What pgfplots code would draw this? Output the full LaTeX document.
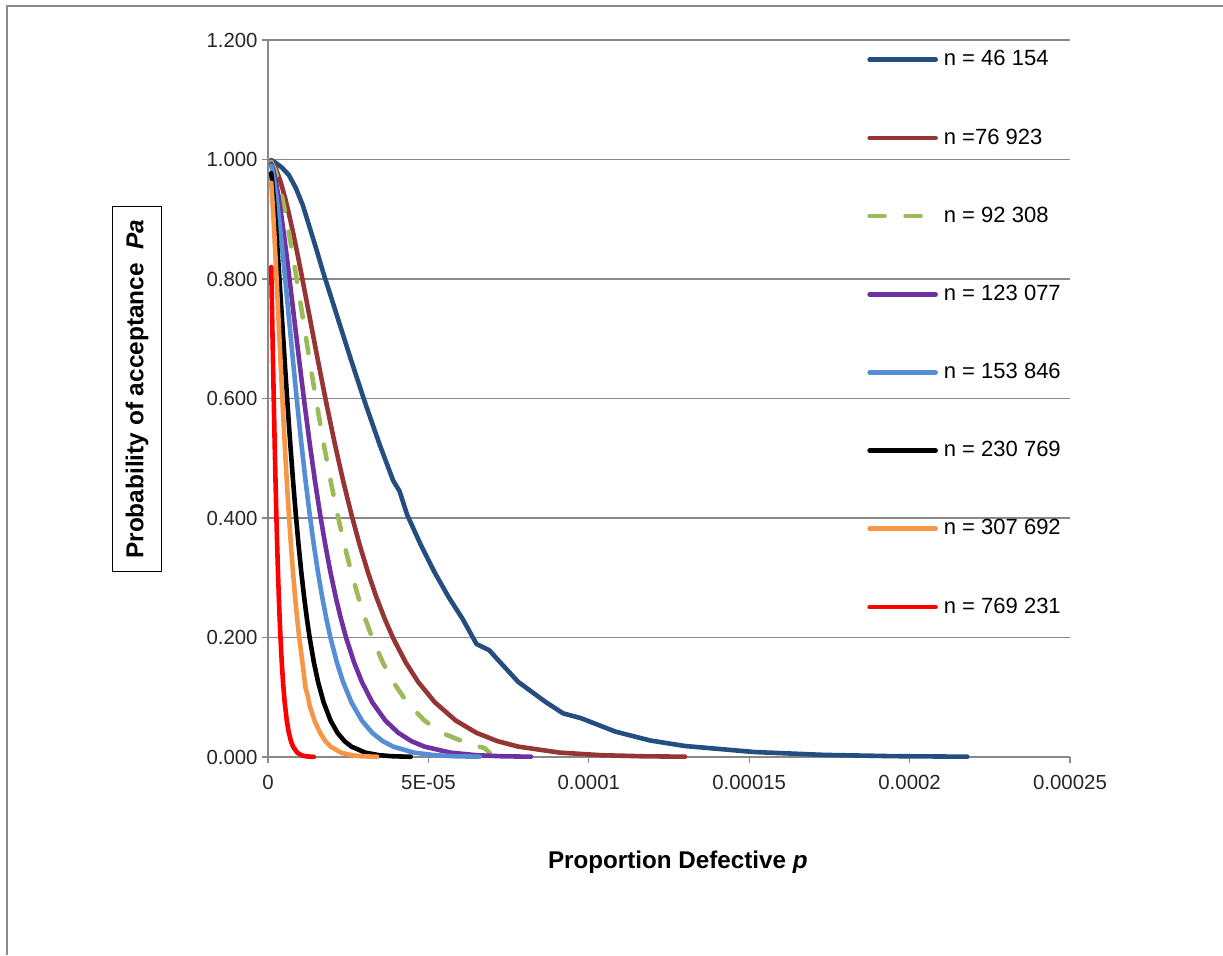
\documentclass[border=0pt]{standalone}
\usepackage{pgfplots}
\pgfplotsset{compat=1.18}
\usepackage{fontspec}
\setmainfont{Liberation Sans}
\definecolor{cBlue}{HTML}{254E80}
\definecolor{cBrown}{HTML}{963634}
\definecolor{cGreen}{HTML}{9BBB59}
\definecolor{cPurple}{HTML}{7030A0}
\definecolor{cLBlue}{HTML}{558ED5}
\definecolor{cOrange}{HTML}{F79646}
\definecolor{cRed}{HTML}{FF0000}
\definecolor{cGrid}{HTML}{898989}
\definecolor{cFrame}{HTML}{8A8A8A}
\begin{document}
\begin{tikzpicture}
\useasboundingbox (0,0) rectangle (611.5pt,477.5pt);
\draw[cFrame, line width=1.1pt] (3.5pt,0) -- (3.5pt,474.5pt) -- (611.5pt,474.5pt);
\begin{axis}[
  at={(134pt,99pt)}, anchor=south west,
  scale only axis, width=401pt, height=358.5pt,
  xmin=0, xmax=0.00025, ymin=0, ymax=1.2,
  axis lines*=left,
  axis line style={cGrid, line width=0.6pt},
  xtick={0,0.00005,0.0001,0.00015,0.0002,0.00025},
  xticklabels={0,5E-05,0.0001,0.00015,0.0002,0.00025},
  ytick={0,0.2,0.4,0.6,0.8,1.0,1.2},
  yticklabels={0.000,0.200,0.400,0.600,0.800,1.000,1.200},
  scaled x ticks=false, scaled y ticks=false,
  tick align=outside, major tick length=3pt,
  tick style={cGrid, line width=0.6pt},
  ymajorgrids, grid style={cGrid, line width=0.6pt},
  ticklabel style={font=\fontsize{10.2}{12}\selectfont, text=black!85},
  yticklabel style={inner xsep=2pt},
  xticklabel style={yshift=-2.5pt},
  xlabel={\textbf{Proportion Defective \textit{p}}},
  xlabel style={at={(axis description cs:0.511,-0.147)}, anchor=center, font=\fontsize{12.1}{14}\selectfont},
  ylabel={\textbf{Probability of acceptance\ \ \textit{Pa}}},
  ylabel style={at={(axis description cs:-0.1633,0.513)}, anchor=center, rotate=0,
    draw=black, line width=0.7pt, minimum height=24.5pt, inner xsep=6.5pt, font=\fontsize{12.2}{14}\selectfont},
  legend cell align=left,
  legend image code/.code={\draw[#1] (1pt,0pt) -- (34pt,0pt);},
  legend style={at={(axis description cs:0.7393,0.997)}, anchor=north west, draw=none, fill=none,
    font=\fontsize{11}{13}\selectfont, row sep=25.9pt, column sep=3pt,
    nodes={inner xsep=0pt, inner ysep=2pt}},
  every axis plot/.append style={line width=2.3pt, line join=round, line cap=round},
  clip=false,
]
\addplot[cBlue] coordinates {(1e-6,0.999) (2.167e-6,0.9953) (4.333e-6,0.9865) (6.5e-6,0.9741) (8.667e-6,0.9524) (1.0833e-5,0.9238) (1.3e-5,0.8861) (1.5167e-5,0.8482) (1.7333e-5,0.8088) (1.95e-5,0.7725) (2.1667e-5,0.7358) (2.6e-5,0.6626) (3.0333e-5,0.5918) (3.4667e-5,0.5249) (3.9e-5,0.4628) (4.1e-5,0.445) (4.3333e-5,0.4060) (4.7667e-5,0.3546) (5.2e-5,0.3084) (5.6333e-5,0.2674) (6.0667e-5,0.2311) (6.5e-5,0.1891) (6.9e-5,0.1786) (7.15e-5,0.1636) (7.8e-5,0.1257) (8.6667e-5,0.0916) (9.2e-5,0.0730) (9.75e-5,0.0651) (1.0833e-4,0.0424) (1.1917e-4,0.0276) (1.3e-4,0.0184) (1.5167e-4,0.0083) (1.7333e-4,0.0035) (1.95e-4,0.0014) (2.18e-4,0.0005)};
\addlegendentry{n = 46 154}
\addplot[cBrown] coordinates {(1e-6,0.9972) (2.6e-6,0.9825) (3.9e-6,0.9631) (5.2e-6,0.9384) (6.5e-6,0.9098) (7.8e-6,0.8781) (9.1e-6,0.8442) (1.04e-5,0.8088) (1.17e-5,0.7725) (1.3e-5,0.7358) (1.56e-5,0.6626) (1.82e-5,0.5918) (2.08e-5,0.5249) (2.34e-5,0.4628) (2.6e-5,0.4060) (2.86e-5,0.3546) (3.12e-5,0.3084) (3.38e-5,0.2674) (3.64e-5,0.2311) (3.9e-5,0.1991) (4.29e-5,0.1586) (4.68e-5,0.1257) (5.2e-5,0.0916) (5.85e-5,0.0611) (6.5e-5,0.0404) (7.15e-5,0.0266) (7.8e-5,0.0174) (9.1e-5,0.0073) (1.04e-4,0.0030) (1.17e-4,0.0012) (1.3e-4,0.0005)};
\addlegendentry{n =76 923}
\addplot[cGreen, dash pattern=on 7.5pt off 10.5pt, line cap=round] coordinates {(1e-6,0.9960) (2.167e-6,0.9825) (3.25e-6,0.9631) (4.333e-6,0.9384) (5.417e-6,0.9098) (6.5e-6,0.8781) (7.583e-6,0.8442) (8.667e-6,0.8088) (9.75e-6,0.7725) (1.0833e-5,0.7358) (1.3e-5,0.6626) (1.5167e-5,0.5918) (1.7333e-5,0.5249) (1.95e-5,0.4628) (2.1667e-5,0.4060) (2.3833e-5,0.3546) (2.6e-5,0.3084) (2.8167e-5,0.2674) (3.0333e-5,0.2311) (3.25e-5,0.1991) (3.575e-5,0.1586) (3.9e-5,0.1257) (4.333e-5,0.0916) (4.875e-5,0.0611) (5.417e-5,0.0404) (5.958e-5,0.0286) (6.5e-5,0.0184) (6.75e-5,0.0150) (6.92e-5,0.0060)};
\addlegendentry{n = 92 308}
\addplot[cPurple] coordinates {(1e-6,0.9930) (1.625e-6,0.9825) (2.4375e-6,0.9631) (3.25e-6,0.9384) (4.0625e-6,0.9098) (4.875e-6,0.8781) (5.6875e-6,0.8442) (6.5e-6,0.8088) (7.3125e-6,0.7725) (8.125e-6,0.7358) (9.75e-6,0.6626) (1.1375e-5,0.5918) (1.3e-5,0.5249) (1.4625e-5,0.4628) (1.625e-5,0.4060) (1.7875e-5,0.3546) (1.95e-5,0.3084) (2.1125e-5,0.2674) (2.275e-5,0.2311) (2.4375e-5,0.1991) (2.68125e-5,0.1586) (2.925e-5,0.1257) (3.25e-5,0.0916) (3.65625e-5,0.0611) (4.0625e-5,0.0404) (4.46875e-5,0.0266) (4.875e-5,0.0174) (5.6875e-5,0.0073) (6.5e-5,0.0030) (7.3125e-5,0.0012) (8.2e-5,0.0005)};
\addlegendentry{n = 123 077}
\addplot[cLBlue] coordinates {(1e-6,0.9893) (1.3e-6,0.9825) (1.95e-6,0.9631) (2.6e-6,0.9384) (3.25e-6,0.9098) (3.9e-6,0.8781) (4.55e-6,0.8442) (5.2e-6,0.8088) (5.85e-6,0.7725) (6.5e-6,0.7358) (7.8e-6,0.6626) (9.1e-6,0.5918) (1.04e-5,0.5249) (1.17e-5,0.4628) (1.3e-5,0.4060) (1.43e-5,0.3546) (1.56e-5,0.3084) (1.69e-5,0.2674) (1.82e-5,0.2311) (1.95e-5,0.1991) (2.145e-5,0.1586) (2.34e-5,0.1257) (2.6e-5,0.0916) (2.925e-5,0.0611) (3.25e-5,0.0404) (3.575e-5,0.0266) (3.9e-5,0.0174) (4.55e-5,0.0073) (5.2e-5,0.0030) (5.85e-5,0.0012) (6.6e-5,0.0005)};
\addlegendentry{n = 153 846}
\addplot[black] coordinates {(1e-6,0.977) (1.3e-6,0.9631) (1.7333e-6,0.9384) (2.1667e-6,0.9098) (2.6e-6,0.8781) (3.0333e-6,0.8442) (3.4667e-6,0.8088) (3.9e-6,0.7725) (4.3333e-6,0.7358) (5.2e-6,0.6626) (6.0667e-6,0.5918) (6.9333e-6,0.5249) (7.8e-6,0.4628) (8.6667e-6,0.4060) (9.5333e-6,0.3546) (1.04e-5,0.3084) (1.1267e-5,0.2674) (1.2133e-5,0.2311) (1.3e-5,0.1991) (1.43e-5,0.1586) (1.56e-5,0.1257) (1.7333e-5,0.0916) (1.95e-5,0.0611) (2.1667e-5,0.0404) (2.3833e-5,0.0266) (2.6e-5,0.0174) (3.0333e-5,0.0073) (3.4667e-5,0.0030) (3.9e-5,0.0012) (4.45e-5,0.0004)};
\addlegendentry{n = 230 769}
\addplot[cOrange] coordinates {(1e-6,0.961) (1.3e-6,0.9384) (1.625e-6,0.9098) (1.95e-6,0.8781) (2.275e-6,0.8442) (2.6e-6,0.8088) (2.925e-6,0.7725) (3.25e-6,0.7358) (3.9e-6,0.6626) (4.55e-6,0.5918) (5.2e-6,0.5249) (5.85e-6,0.4628) (6.5e-6,0.4060) (7.15e-6,0.3546) (7.8e-6,0.3084) (8.45e-6,0.2674) (9.1e-6,0.2311) (9.75e-6,0.1991) (1.0725e-5,0.1586) (1.17e-5,0.1157) (1.25e-5,0.1000) (1.3e-5,0.0856) (1.4625e-5,0.0591) (1.625e-5,0.0404) (1.7875e-5,0.0266) (1.95e-5,0.0174) (2.275e-5,0.0073) (2.6e-5,0.0030) (2.925e-5,0.0012) (3.4e-5,0.0004)};
\addlegendentry{n = 307 692}
\addplot[cRed] coordinates {(1e-6,0.820) (1.3e-6,0.7358) (1.56e-6,0.6626) (1.82e-6,0.5918) (2.08e-6,0.5249) (2.34e-6,0.4628) (2.6e-6,0.4060) (2.86e-6,0.3546) (3.12e-6,0.3084) (3.38e-6,0.2674) (3.64e-6,0.2311) (3.9e-6,0.1991) (4.29e-6,0.1586) (4.68e-6,0.1257) (5.2e-6,0.0916) (5.85e-6,0.0611) (6.5e-6,0.0404) (7.15e-6,0.0266) (7.8e-6,0.0174) (9.1e-6,0.0073) (1.04e-5,0.0030) (1.17e-5,0.0012) (1.43e-5,0.0002)};
\addlegendentry{n = 769 231}
\end{axis}
\end{tikzpicture}
\end{document}
